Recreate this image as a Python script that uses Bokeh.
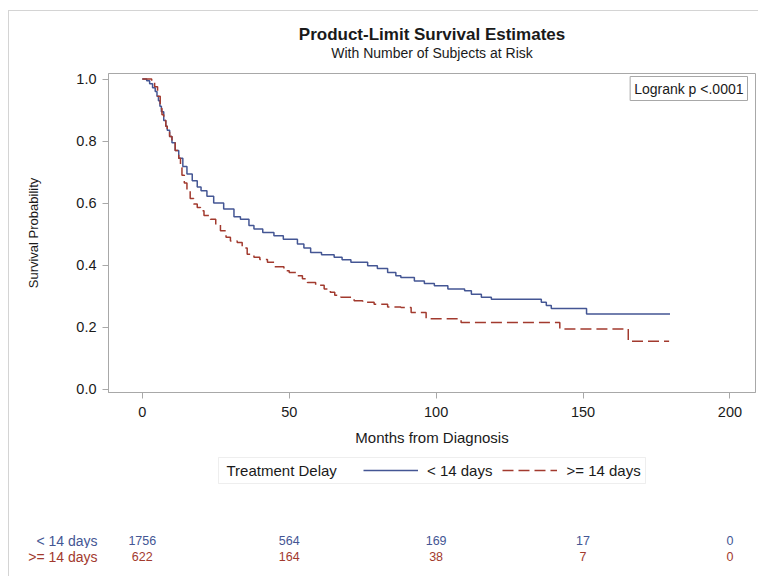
from bokeh.plotting import figure
from bokeh.models import (Range1d, FixedTicker, PrintfTickFormatter, Label, Legend,
                          LegendItem, BoxAnnotation)
from bokeh.layouts import column
from bokeh.embed import file_html
from bokeh.resources import INLINE
from bokeh.core.properties import value

# ---------------- data ----------------
time_lt14 = [0, 1.5, 2.5, 3.5, 4.4, 5.0, 5.5, 6.0, 6.5, 7.3, 8.0, 8.5, 9.3, 10.1, 11.2, 12.4, 13.8, 15.2,
             17.0, 18.7, 20.0, 22.0, 24.3, 27.7, 31.2, 33.4, 36.3, 38.0, 41.0, 44.8, 48.0, 52.8, 55.0,
             57.3, 61.0, 65.3, 68.0, 71.0, 76.7, 80.0, 83.5, 86.3, 88.0, 92.6, 96.0, 99.4, 104.0, 109.7,
             112.0, 115.4, 118.8, 135.8, 137.5, 139.2, 151.2, 179.6]
surv_lt14 = [1.0, 0.995, 0.985, 0.972, 0.960, 0.945, 0.930, 0.912, 0.895, 0.866, 0.848, 0.835, 0.815,
             0.795, 0.770, 0.745, 0.718, 0.694, 0.672, 0.652, 0.640, 0.622, 0.600, 0.581, 0.556, 0.548,
             0.528, 0.516, 0.505, 0.495, 0.483, 0.468, 0.455, 0.441, 0.433, 0.425, 0.417, 0.409, 0.398,
             0.389, 0.376, 0.366, 0.360, 0.349, 0.341, 0.333, 0.323, 0.317, 0.306, 0.296, 0.290, 0.280,
             0.270, 0.260, 0.242, 0.242]

time_ge14 = [0, 3.2, 4.2, 5.2, 6.1, 6.7, 7.3, 8.0, 8.5, 9.3, 10.1, 11.2, 12.4, 13.0, 13.5, 14.3, 15.2,
             16.3, 17.5, 18.7, 19.8, 21.0, 23.2, 25.0, 26.6, 28.5, 30.0, 32.3, 34.0, 35.7, 38.0, 40.0,
             42.6, 45.0, 48.2, 50.0, 52.8, 54.5, 56.2, 59.0, 61.9, 64.0, 65.5, 67.6, 72.1, 75.0, 78.9,
             83.5, 88.0, 91.5, 96.6, 108.5, 142.1, 165.4, 179.3]
surv_ge14 = [1.0, 0.990, 0.975, 0.945, 0.905, 0.885, 0.866, 0.848, 0.835, 0.815, 0.795, 0.770, 0.745,
             0.715, 0.690, 0.665, 0.640, 0.615, 0.597, 0.586, 0.575, 0.560, 0.548, 0.530, 0.511, 0.490,
             0.478, 0.473, 0.455, 0.435, 0.425, 0.418, 0.409, 0.395, 0.382, 0.376, 0.366, 0.356, 0.344,
             0.335, 0.323, 0.312, 0.303, 0.296, 0.285, 0.280, 0.274, 0.265, 0.263, 0.247, 0.227, 0.215,
             0.194, 0.154, 0.154]

risk_times = [0, 50, 100, 150, 200]
risk_lt14 = [1756, 564, 169, 17, 0]
risk_ge14 = [622, 164, 38, 7, 0]

x_ticks = [0, 50, 100, 150, 200]
y_ticks = [0.0, 0.2, 0.4, 0.6, 0.8, 1.0]
group_labels = ["< 14 days", ">= 14 days"]
legend_title = "Treatment Delay"
title_text = "Product-Limit Survival Estimates"
subtitle_text = "With Number of Subjects at Risk"
x_label = "Months from Diagnosis"
y_label = "Survival Probability"
pvalue_text = "Logrank p <.0001"

# ---------------- style ----------------
FONT = "Liberation Sans"
BLUE = "#445694"
RED = "#A23A2E"
GRAY = "#a8a8a8"
TXT = "#1a1a1a"
DASH = "11 5"

W = 749
BL, BR = 99, 3
FW = W - BL - BR
X0, X1 = -11.5, 208.7
Y0, Y1 = -0.011, 1.018
xr = Range1d(X0, X1)


def strip(height):
    f = figure(width=W, height=height, x_range=xr, y_range=Range1d(height, 0),
               output_backend="svg", toolbar_location=None, x_axis_location=None,
               min_border_left=BL, min_border_right=BR, min_border_top=0, min_border_bottom=0)
    f.grid.visible = False
    f.outline_line_color = None
    f.background_fill_color = "white"
    f.border_fill_color = "white"
    return f


# ---------------- title strip ----------------
H0 = 50
p0 = strip(H0)
p0.yaxis.visible = False
XC = (X0 + X1) / 2
p0.text(x=[XC], y=[23], text=[title_text], text_align="center", text_baseline="middle",
        text_font=value(FONT), text_font_size="17px", text_font_style="bold", text_color=TXT)
p0.text(x=[XC], y=[41], text=[subtitle_text], text_align="center", text_baseline="middle",
        text_font=value(FONT), text_font_size="14px", text_color=TXT)

# ---------------- main plot ----------------
H1 = 389
BT = 12
FH = 319
BB = H1 - BT - FH
p = figure(width=W, height=H1, x_range=xr, y_range=Range1d(Y0, Y1),
           output_backend="svg", toolbar_location=None,
           min_border_left=BL, min_border_right=BR, min_border_top=BT, min_border_bottom=BB)
p.grid.visible = False
p.outline_line_color = GRAY
p.background_fill_color = "white"
p.border_fill_color = "white"

r1 = p.step(x=time_lt14, y=surv_lt14, mode="after", line_color=BLUE, line_width=1.5)
r2 = p.step(x=time_ge14, y=surv_ge14, mode="after", line_color=RED, line_width=1.5, line_dash=DASH)

p.xaxis.ticker = FixedTicker(ticks=x_ticks)
p.yaxis.ticker = FixedTicker(ticks=y_ticks)
p.yaxis.formatter = PrintfTickFormatter(format="%.1f")
for ax in p.axis:
    ax.axis_line_color = GRAY
    ax.major_tick_line_color = GRAY
    ax.minor_tick_line_color = None
    ax.major_tick_out = 6
    ax.major_tick_in = 0
    ax.major_label_text_font = FONT
    ax.major_label_text_font_size = "14.5px"
    ax.major_label_text_color = TXT
    ax.axis_label_text_font = FONT
    ax.axis_label_text_font_style = "normal"
    ax.axis_label_text_color = TXT
p.xaxis.axis_label = x_label
p.xaxis.axis_label_text_font_size = "15px"
p.xaxis.axis_label_standoff = 9
p.xaxis.major_label_standoff = 8
p.yaxis.axis_label = y_label
p.yaxis.axis_label_text_font_size = "13px"
p.yaxis.axis_label_standoff = 32
p.yaxis.major_label_standoff = 6

# p-value box
p.add_layout(Label(x=FW - 8, y=FH - 3, x_units="screen", y_units="screen", text=pvalue_text,
                   text_align="right", text_baseline="top", text_font=FONT, text_font_size="14px",
                   text_color=TXT, border_line_color=GRAY, background_fill_color="white", padding=4))


def risk_strip(height, row_y, row_label, color):
    f = strip(height)
    ax = f.yaxis[0]
    ax.ticker = FixedTicker(ticks=[row_y])
    ax.major_label_overrides = {row_y: row_label}
    ax.axis_line_color = None
    ax.major_tick_line_color = None
    ax.minor_tick_line_color = None
    ax.major_tick_out = 0
    ax.major_tick_in = 0
    ax.major_label_standoff = 11
    ax.major_label_text_font = FONT
    ax.major_label_text_font_size = "14px"
    ax.major_label_text_color = color
    return f


# ---------------- legend + first at-risk row ----------------
H2 = 98
p2 = risk_strip(H2, 90, group_labels[0], BLUE)
p2.text(x=risk_times, y=[90] * len(risk_times), text=[str(v) for v in risk_lt14],
        text_align="center", text_baseline="middle", text_color=BLUE,
        text_font=value(FONT), text_font_size="12.5px")

# hidden copies of the curves, only used for the legend samples
s1 = p2.step(x=time_lt14, y=surv_lt14, mode="after", line_color=BLUE, line_width=1.5, visible=False)
s2 = p2.step(x=time_ge14, y=surv_ge14, mode="after", line_color=RED, line_width=1.5,
             line_dash=DASH, visible=False)
LEG_Y = H2 - 20  # legend row centre, measured up from the bottom of the strip
legend = Legend(items=[LegendItem(label=group_labels[0], renderers=[s1]),
                       LegendItem(label=group_labels[1], renderers=[s2])],
                orientation="horizontal", location=(255, LEG_Y - 10), border_line_color=None,
                background_fill_alpha=0, padding=0, spacing=10, margin=0, glyph_width=55,
                glyph_height=20, label_height=20, label_standoff=9, label_text_font=FONT,
                label_text_font_size="15px", label_text_color=TXT)
p2.add_layout(legend, "center")
p2.add_layout(Label(x=118, y=LEG_Y, x_units="screen", y_units="screen", text=legend_title,
                    text_align="left", text_baseline="middle", text_font=FONT,
                    text_font_size="15px", text_color=TXT))
p2.add_layout(BoxAnnotation(left=110, right=537, top=LEG_Y + 13, bottom=LEG_Y - 13,
                            left_units="screen", right_units="screen", top_units="screen",
                            bottom_units="screen", fill_alpha=0, line_color="#c8c8c8", line_width=1))

# ---------------- second at-risk row ----------------
H3 = 28
p3 = risk_strip(H3, 8, group_labels[1], RED)
p3.text(x=risk_times, y=[8] * len(risk_times), text=[str(v) for v in risk_ge14],
        text_align="center", text_baseline="middle", text_color=RED,
        text_font=value(FONT), text_font_size="12.5px")

layout = column(p0, p, p2, p3, spacing=0,
                styles={"margin-left": "8px", "margin-top": "10px",
                        "border-left": "1px solid #d4d4d4", "border-top": "1px solid #d4d4d4"})

open("out.html", "w").write(file_html(layout, INLINE))
